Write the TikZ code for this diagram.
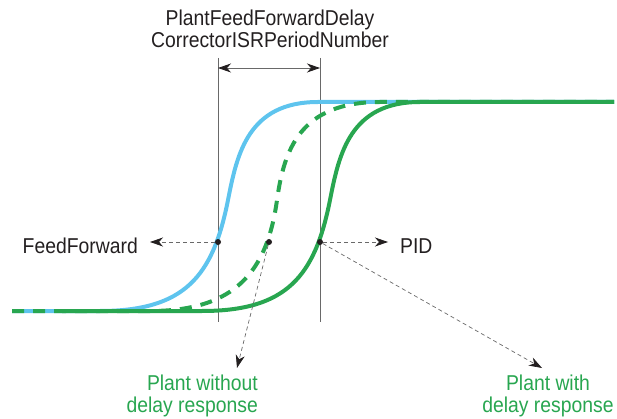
\documentclass[tikz,border=0pt]{standalone}
\usepackage{fontspec}
\setmainfont{Liberation Sans}[FakeStretch=0.9]
\usetikzlibrary{arrows.meta}

\definecolor{curveblue}{RGB}{94,196,238}
\definecolor{curvegreen}{RGB}{40,166,80}
\definecolor{guidegray}{RGB}{105,105,105}
\definecolor{inkblack}{RGB}{35,31,32}

\tikzset{
  lbl/.style={font=\fontsize{21.5}{22}\selectfont,text=inkblack,inner sep=0pt},
  glbl/.style={lbl,text=curvegreen,align=right},
  dot/.style={circle,fill=inkblack,inner sep=0pt,minimum size=6pt},
  guide/.style={guidegray,line width=0.8pt},
  pointer/.style={guidegray,line width=0.7pt,dash pattern=on 4pt off 3pt,-{Stealth[length=13pt,width=9pt,inset=4pt,color=inkblack]}},
  response/.style={line width=4pt}
}

\begin{document}
\begin{tikzpicture}[x=1pt,y=-1pt]
  \useasboundingbox (0,0) rectangle (617,419);

  % guide lines
  \draw[guide] (218,58) -- (218,322);
  \draw[guide] (320,58) -- (320,322);
  \coordinate (spanL) at (218,68);
  \coordinate (spanR) at (320,68);
  \draw[guide,{Stealth[length=13pt,width=9pt,inset=4pt,color=inkblack]}-{Stealth[length=13pt,width=9pt,inset=4pt,color=inkblack]}] (spanL) -- (spanR);

  % responses
  \draw[response,curveblue] (12,311) -- (100,311)
    .. controls (185,311) and (213,276) .. (228,200)
    .. controls (237,154) and (248,102) .. (318,102) -- (614,102);
  \draw[response,curvegreen,dash pattern=on 12pt off 9pt] (12,311) -- (150,311)
    .. controls (235,311) and (267,272) .. (277,200)
    .. controls (284,150) and (300,102) .. (380,102) -- (614,102);
  \draw[response,curvegreen] (62,311) -- (202,311)
    .. controls (287,311) and (315,276) .. (330,200)
    .. controls (339,154) and (350,102) .. (420,102) -- (614,102);

  % labels
  \node[lbl,align=center,anchor=north] (delaylbl) at (270,10)
    {PlantFeedForwardDelay\\CorrectorISRPeriodNumber};
  \node[lbl,anchor=base east] (fflbl) at (138,253) {FeedForward};
  \node[lbl,anchor=base west] (pidlbl) at (400,253) {PID};
  \node[glbl,anchor=north east] (nodelaylbl) at (258,375)
    {Plant without\\delay response};
  \node[glbl,align=center,anchor=north] (delayedlbl) at (548,375)
    {Plant with\\delay response};

  \coordinate (fftip) at (150,242);
  \coordinate (pidtip) at (388,242);
  \coordinate (nodelaytip) at (237,368);
  \coordinate (delaytip) at (542,368);

  % points
  \node[dot] (ffdot) at (218,242) {};
  \node[dot] (nodelaydot) at (269,242) {};
  \node[dot] (piddot) at (320,242) {};

  \draw[pointer] (ffdot) -- (fftip);
  \draw[pointer] (piddot) -- (pidtip);
  \draw[pointer] (nodelaydot) -- (nodelaytip);
  \draw[pointer] (piddot) -- (delaytip);
\end{tikzpicture}
\end{document}
